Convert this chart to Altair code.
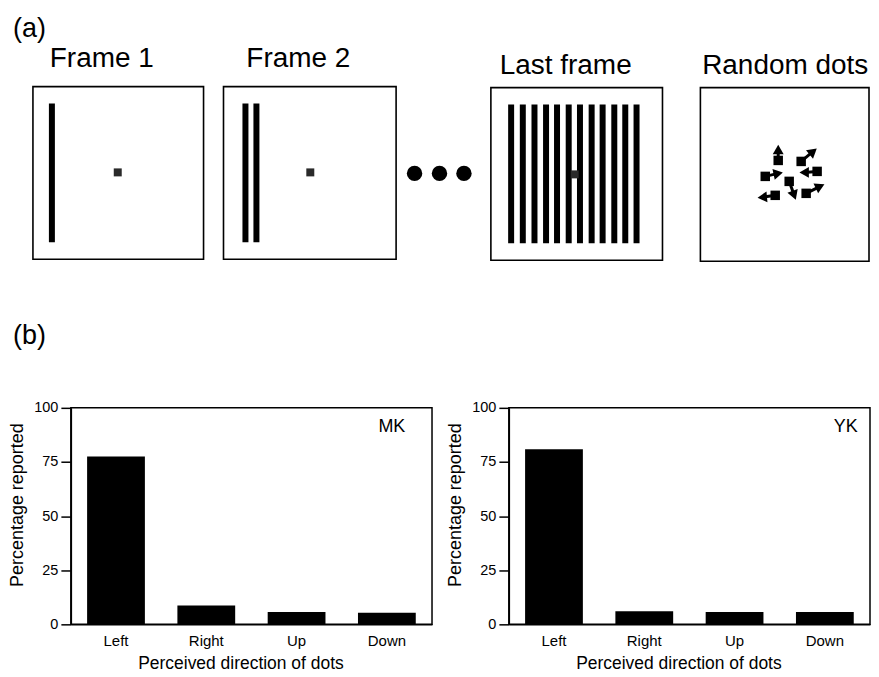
import altair as alt
import pandas as pd

FONT = "Liberation Sans"

# ---------------- Part (a): schematic (positions in page-pixel units) ----------------
frame_titles = ["Frame 1", "Frame 2", "Last frame", "Random dots"]
frame_left = [32, 223, 491, 701]
frame_right = [203, 396, 663, 870]
frame_top = [85, 85, 86, 86]
frame_bottom = [258, 258, 259, 260]
title_x = [101, 298, 566, 786]
title_base = [65, 65, 72, 72]

stripe_frame = [0, 1, 1] + [2] * 12
stripe_left = [48, 242, 253, 508.3, 520, 531.7, 543.3, 554.3, 566, 577.3, 589, 600, 611.7, 622.7, 634]
stripe_width = 6
stripe_top = [102, 102, 103]
stripe_bottom = [241, 241, 242]

fix_x = [117, 310, 575]
fix_y = [171, 171, 173]

ellipsis_x = [414.5, 439.5, 464]
ellipsis_y = [172, 172, 172]

dot_x = [779, 802, 818, 766, 790, 807, 776]
dot_y = [159, 160, 170, 175, 180, 192, 194]
head_x = [779, 814, 805, 779, 795, 821, 763]
head_y = [148, 150, 171, 172, 194, 185, 196]
head_angle = [0, 50, 270, 78, 160, 65, 265]

panel_labels = ["(a)", "(b)"]
panel_label_x = [12, 12]
panel_label_y = [35, 343]

# ---------------- Part (b): bar data ----------------
directions = ["Left", "Right", "Up", "Down"]
mk_values = [77.5, 8.7, 5.7, 5.4]
yk_values = [80.9, 6.0, 5.7, 5.7]

X0 = 70           # page x of the top panel origin (aligned with left plot)
TOP_W, TOP_H = 801, 345
xs = alt.Scale(domain=[X0, X0 + TOP_W], nice=False, zero=False)
ys = alt.Scale(domain=[8, 8 + TOP_H], nice=False, zero=False, reverse=True)


def X(f):
    return alt.X(f, type="quantitative", scale=xs, axis=None)


def Y(f):
    return alt.Y(f, type="quantitative", scale=ys, axis=None)


frames_df = pd.DataFrame({
    "title": frame_titles, "l": frame_left, "r": frame_right,
    "t": frame_top, "b": frame_bottom, "tx": title_x, "ty": title_base,
})
stripes_df = pd.DataFrame({
    "l": stripe_left,
    "r": [v + stripe_width for v in stripe_left],
    "t": [stripe_top[f] for f in stripe_frame],
    "b": [stripe_bottom[f] for f in stripe_frame],
})
fix_df = pd.DataFrame({"x": fix_x, "y": fix_y})
ell_df = pd.DataFrame({"x": ellipsis_x, "y": ellipsis_y})
dots_df = pd.DataFrame({"x": dot_x, "y": dot_y, "hx": head_x, "hy": head_y, "ang": head_angle})
lab_df = pd.DataFrame({"label": panel_labels, "x": panel_label_x, "y": panel_label_y})

boxes = alt.Chart(frames_df).mark_rect(fill="white", stroke="black", strokeWidth=1.6).encode(
    x=X("l"), x2="r", y=Y("t"), y2="b")
titles = alt.Chart(frames_df).mark_text(font=FONT, fontSize=28, align="center",
                                         baseline="alphabetic", color="black").encode(
    x=X("tx"), y=Y("ty"), text="title:N")
stripes = alt.Chart(stripes_df).mark_rect(color="black").encode(
    x=X("l"), x2="r", y=Y("t"), y2="b")
fix = alt.Chart(fix_df).mark_point(shape="square", size=64, filled=True, color="#2a2a2a", opacity=1).encode(
    x=X("x"), y=Y("y"))
ell = alt.Chart(ell_df).mark_point(shape="circle", size=240, filled=True, color="black", opacity=1).encode(
    x=X("x"), y=Y("y"))
shafts = alt.Chart(dots_df).mark_rule(color="black", strokeWidth=3).encode(
    x=X("x"), y=Y("y"), x2="hx", y2="hy")
squares = alt.Chart(dots_df).mark_point(shape="square", size=90, filled=True, color="black", opacity=1).encode(
    x=X("x"), y=Y("y"))
heads = alt.Chart(dots_df).mark_point(shape="triangle-up", size=120, filled=True, color="black", opacity=1).encode(
    x=X("hx"), y=Y("hy"), angle=alt.Angle("ang:Q", scale=None))
plabels = alt.Chart(lab_df).mark_text(font=FONT, fontSize=27, align="left", baseline="alphabetic",
                                      color="black").encode(x=X("x"), y=Y("y"), text="label:N")

top = alt.layer(boxes, stripes, fix, ell, shafts, squares, heads, titles, plabels).properties(
    width=TOP_W, height=TOP_H, view=alt.ViewBackground(stroke="transparent"))


def bar_chart(values, subject, dx):
    df = pd.DataFrame({"dir": directions, "pct": values})
    xenc = alt.X("dir:N", sort=directions,
                 scale=alt.Scale(paddingInner=0.36, paddingOuter=0.18),
                 axis=alt.Axis(title="Perceived direction of dots", labelAngle=0, ticks=False,
                               labelPadding=9, titlePadding=6, labelFontSize=15, titleFontSize=17.5,
                               titleX=170, titleAlign="center",
                               labelFont=FONT, titleFont=FONT, labelColor="black", titleColor="black",
                               titleFontWeight="normal", domainColor="black", domainWidth=1.5))
    yenc = alt.Y("pct:Q", scale=alt.Scale(domain=[0, 100], nice=False),
                 axis=alt.Axis(values=[0, 25, 50, 75, 100], title="Percentage reported", grid=False,
                               tickSize=10, tickWidth=1.5, tickColor="black", labelPadding=3,
                               titlePadding=7, labelFontSize=14.5, titleFontSize=18, titleY=97,
                               labelFont=FONT, titleFont=FONT, labelColor="black", titleColor="black",
                               titleFontWeight="normal", domainColor="black", domainWidth=1.5))
    bars = alt.Chart(df).mark_bar(color="black").encode(x=xenc, y=yenc)
    tdf = pd.DataFrame({"dir": ["Down"], "pct": [91], "label": [subject]})
    txt = alt.Chart(tdf).mark_text(font=FONT, fontSize=18, color="black", dx=dx, align="center",
                                   baseline="middle").encode(
        x=alt.X("dir:N", sort=directions), y=alt.Y("pct:Q"), text="label:N")
    return alt.layer(bars, txt).properties(
        width=362, height=217,
        view=alt.ViewBackground(stroke="black", strokeWidth=1.5))


left = bar_chart(mk_values, "MK", 5)
right = bar_chart(yk_values, "YK", 21)

chart = alt.vconcat(top, alt.hconcat(left, right, spacing=13), spacing=44).properties(
    padding=0).configure(font=FONT).configure_view(stroke="transparent")

chart.save("out.html", embed_options={"renderer": "svg", "actions": False})
